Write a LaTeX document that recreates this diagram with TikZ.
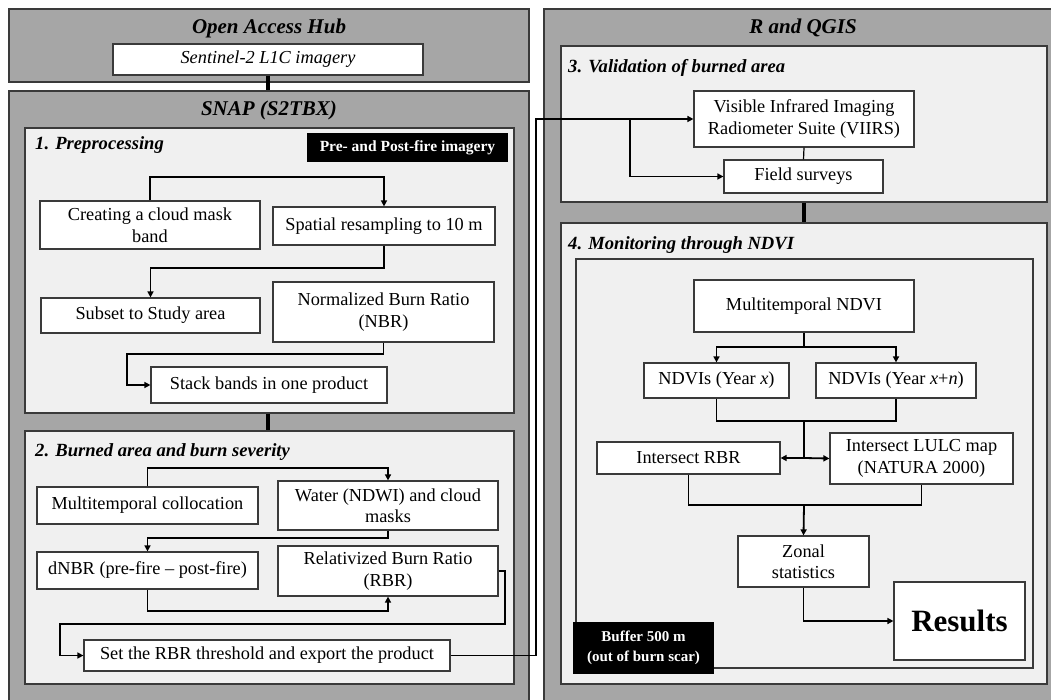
\documentclass[tikz,border=0pt]{standalone}
\usepackage{fontspec}
\setmainfont{Liberation Serif}
\usetikzlibrary{fit,arrows.meta}
\definecolor{outerg}{HTML}{A6A6A6}
\definecolor{sectg}{HTML}{F0F0F0}
\definecolor{bordc}{HTML}{3A3A3A}
\newcommand\mkbox[7]{\node[#6, minimum width={(#4-#2)*1pt}, minimum height={(#5-#3)*1pt}] (#1) at ({(#2+#4)/2},{(#3+#5)/2}) {#7};}
\begin{document}
\begin{tikzpicture}[x=1pt,y=-1pt,
  outer/.style={draw=bordc, fill=outerg, line width=1.4pt, inner sep=0pt},
  sect/.style={draw=bordc, fill=sectg, line width=1.4pt, inner sep=0pt},
  box/.style={draw=bordc, fill=white, line width=1.2pt, inner sep=0pt, align=center,
    font=\fontsize{18.3}{21.5}\selectfont},
  blk/.style={fill=black, text=white, inner sep=0pt, align=center,
    font=\fontsize{15.5}{19.5}\selectfont\bfseries},
  arr/.style={line width=1.8pt, -{Triangle[length=6pt,width=6pt]}},
  ln/.style={line width=1.8pt},
  thinln/.style={line width=1.2pt},
  conn/.style={line width=4pt},
  title/.style={font=\fontsize{21}{25}\selectfont\bfseries\itshape, inner sep=0pt},
  stitle/.style={font=\fontsize{18.6}{22}\selectfont\bfseries\itshape, anchor=west, inner sep=0pt}
]
\useasboundingbox (0,0) rectangle (1051,700);
\clip (0,0) rectangle (1051,700);
\fill[white] (0,0) rectangle (1051,700);

% ---------- outer containers ----------
\mkbox{oah}{9}{9}{529}{82}{outer}{}
\mkbox{snap}{9}{91}{529}{704}{outer}{}
\mkbox{rq}{544}{9}{1058}{704}{outer}{}

\node[title] (toah) at (269,28) {Open Access Hub};
\node[title] (tsnap) at (269,110) {SNAP (S2TBX)};
\node[title] (trq) at (803,28) {R and QGIS};

% ---------- sections ----------
\mkbox{s1}{25}{128}{514}{413}{sect}{}
\mkbox{s2}{25}{431}{514}{684}{sect}{}
\mkbox{s3}{561}{46}{1047}{202}{sect}{}
\mkbox{s4}{561}{223}{1047}{684}{sect}{}
\mkbox{s4in}{576}{259}{1033}{668}{sect}{}

\node[stitle] (t1) at (35,145) {1. Preprocessing};
\node[stitle] (t2) at (35,452) {2. Burned area and burn severity};
\node[stitle] (t3) at (568,68) {3. Validation of burned area};
\node[stitle] (t4) at (568,245) {4. Monitoring through NDVI};

% ---------- Open Access Hub ----------
\mkbox{sent}{113}{44}{423}{75}{box, font=\fontsize{18.3}{21.5}\selectfont\itshape}{Sentinel-2 L1C imagery}
\draw[conn] (sent.south) -- (snap.north -| sent.south);

% ---------- 1. Preprocessing ----------
\mkbox{prepost}{307}{133}{508}{162}{blk}{Pre- and Post-fire imagery}
\mkbox{creating}{40}{201}{260}{249}{box}{Creating a cloud mask\\band}
\mkbox{spatial}{273}{207}{495}{245}{box}{Spatial resampling to 10 m}
\mkbox{subset}{41}{298}{260}{333}{box}{Subset to Study area}
\mkbox{nbr}{273}{282}{494}{342}{box}{Normalized Burn Ratio\\(NBR)}
\mkbox{stack}{151}{367}{387}{403}{box}{Stack bands in one product}

\draw[arr] (creating.north) -- (creating.north |- 0,177) -| (spatial.north);
\draw[arr] (spatial.south) -- (spatial.south |- 0,268) -| (subset.north);
\coordinate (c1) at (127,354);
\draw[arr] (nbr.south) -- (nbr.south |- c1) -- (c1) |- (stack.west);

\draw[conn] (s1.south -| sent.south) -- (s2.north -| sent.south);

% ---------- 2. Burned area ----------
\mkbox{multi}{37}{487}{258}{524}{box}{Multitemporal collocation}
\mkbox{water}{278}{481}{498}{530}{box}{Water (NDWI) and cloud\\masks}
\mkbox{dnbr}{37}{552}{258}{589}{box}{dNBR (pre-fire -- post-fire)}
\mkbox{rbr}{278}{546}{498}{596}{box}{Relativized Burn Ratio\\(RBR)}
\mkbox{set}{84}{640}{450}{671}{box}{Set the RBR threshold and export the product}

\draw[arr] (multi.north) -- (multi.north |- 0,468) -| (water.north);
\draw[arr] (water.south) -- (water.south |- 0,538) -| (dnbr.north);
\draw[arr] (dnbr.south) -- (dnbr.south |- 0,611) -| (rbr.south);
\coordinate (c2) at (505,624);
\coordinate (c3) at (60,624);
\draw[arr] (rbr.east) -| (c2) -- (c3) |- (set.west);

% ---------- 3. Validation ----------
\mkbox{viirs}{694}{91}{914}{147}{box}{Visible Infrared Imaging\\Radiometer Suite (VIIRS)}
\mkbox{field}{724}{160}{883}{193}{box}{Field surveys}
\draw[thinln] (viirs.south) -- (field.north);

\coordinate (j1) at (536,119);
\coordinate (j2) at (630,119);
\draw[arr] (set.east) -| (j1) -- (viirs.west);
\draw[arr] (j2) |- (field.west);

\draw[conn] (s3.south -| viirs.south) -- (s4.north -| viirs.south);

% ---------- 4. Monitoring ----------
\mkbox{mndvi}{694}{280}{914}{332}{box}{Multitemporal NDVI}
\mkbox{ndvix}{644}{363}{789}{398}{box}{NDVIs (Year \textit{x})}
\mkbox{ndvixn}{816}{363}{976}{398}{box}{NDVIs (Year \textit{x}+\textit{n})}
\mkbox{irbr}{597}{442}{780}{474}{box}{Intersect RBR}
\mkbox{lulc}{830}{433}{1013}{484}{box}{Intersect LULC map\\(NATURA 2000)}
\mkbox{zonal}{738}{536}{869}{587}{box}{Zonal\\statistics}
\mkbox{results}{894}{582}{1025}{660}{box, font=\fontsize{31}{36}\selectfont\bfseries}{Results}
\mkbox{buffer}{573}{622}{714}{674}{blk, font=\fontsize{15}{20.5}\selectfont\bfseries}{Buffer 500 m\\(out of burn scar)}

\coordinate (j3) at (804,347);
\draw[arr] (mndvi.south) -- (j3) -| (ndvix.north);
\draw[arr] (j3) -| (ndvixn.north);
\coordinate (j4) at (804,421);
\coordinate (j5) at (804,458);
\draw[ln] (ndvix.south) -- (ndvix.south |- j4) -| (ndvixn.south);
\draw[ln] (j4) -- (j5);
\draw[arr] (j5) -- (irbr.east);
\draw[arr] (j5) -- (lulc.west);
\coordinate (j6) at (804,505);
\draw[ln] (irbr.south) -- (irbr.south |- j6) -| (lulc.south);
\draw[arr] (j6) -- (zonal.north);
\draw[arr] (zonal.south) |- (results.west);
\end{tikzpicture}
\end{document}
